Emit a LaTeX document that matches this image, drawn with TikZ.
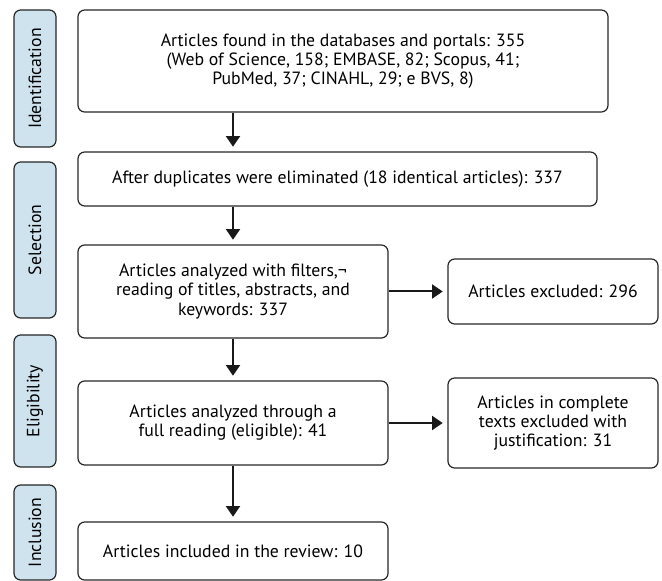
\documentclass[tikz,border=0pt]{standalone}
\usepackage{fontspec}
\setmainfont{PT Sans}
\usetikzlibrary{calc, positioning}
\usetikzlibrary{arrows.meta}
\definecolor{phaseblue}{RGB}{207,227,239}
\def\mw{310}
\def\xw{210}
\tikzset{
    border/.style = {
        draw=black!85, rectangle, rounded corners=5, line width=0.9pt, align=center, inner sep=0pt
    },
    phase/.style = {
        border, fill=phaseblue, minimum width=42, rotate=90, anchor=center
    },
    flow/.style = {
        draw=black!90, line width=1.5pt, -{Triangle[width=10.5pt,length=8pt]}, shorten >=3.5pt
    },
}

\begin{document}
\begin{tikzpicture}[x=0.75pt, y=-0.75pt, every node/.style={font=\fontsize{13.3}{14.3}\selectfont}]
        \useasboundingbox (0,0) rectangle (662,581);
        % Place the phases
        \node[phase, minimum width=137*0.75pt, minimum height=42*0.75pt] (ident) at (35, 78.5) {Identification};
        \node[phase, minimum width=156*0.75pt, minimum height=42*0.75pt] (select) at (35, 240) {Selection};
        \node[phase, minimum width=132*0.75pt, minimum height=42*0.75pt] (elig) at (35, 401) {Eligibility};
        \node[phase, minimum width=95*0.75pt, minimum height=42*0.75pt] (incl) at (35, 532.5) {Inclusion};
        % Place the blocks
        \node[border, minimum width=530*0.75pt, minimum height=102*0.75pt] (found) at (343, 61)
            {Articles found in the databases and portals: 355\\(Web of Science, 158; EMBASE, 82; Scopus, 41;\\PubMed, 37; CINAHL, 29; e BVS, 8)};
        \node[border, minimum width=519*0.75pt, minimum height=54*0.75pt] (dupl) at (337.5, 179)
            {After duplicates were eliminated (18 identical articles): 337};
        \node[border, minimum width=\mw*0.75pt, minimum height=93*0.75pt] (filt) at (233, 291.5)
            {Articles analyzed with filters,¬\\reading of titles, abstracts, and\\keywords: 337};
        \node[border, minimum width=\xw*0.75pt, minimum height=65*0.75pt] (excl) at (553, 291.5)
            {Articles excluded: 296};
        \node[border, minimum width=\mw*0.75pt, minimum height=84*0.75pt] (full) at (233, 423)
            {Articles analyzed through a\\full reading (eligible): 41};
        \node[border, minimum width=\xw*0.75pt, minimum height=90*0.75pt] (just) at (553, 423)
            {Articles in complete\\texts excluded with\\justification: 31};
        \node[border, minimum width=\mw*0.75pt, minimum height=58*0.75pt] (incd) at (233, 551)
            {Articles included in the review: 10};
        % Draw connections
        \draw[flow] (found.south -| filt.north) -- (dupl.north -| filt.north);
        \draw[flow] (dupl.south -| filt.north) -- (filt.north);
        \draw[flow] (filt.south) -- (full.north);
        \draw[flow] (full.south) -- (incd.north);
        \draw[flow] (filt.east) -- (excl.west);
        \draw[flow] (full.east) -- (just.west);
    \end{tikzpicture}
\end{document}
